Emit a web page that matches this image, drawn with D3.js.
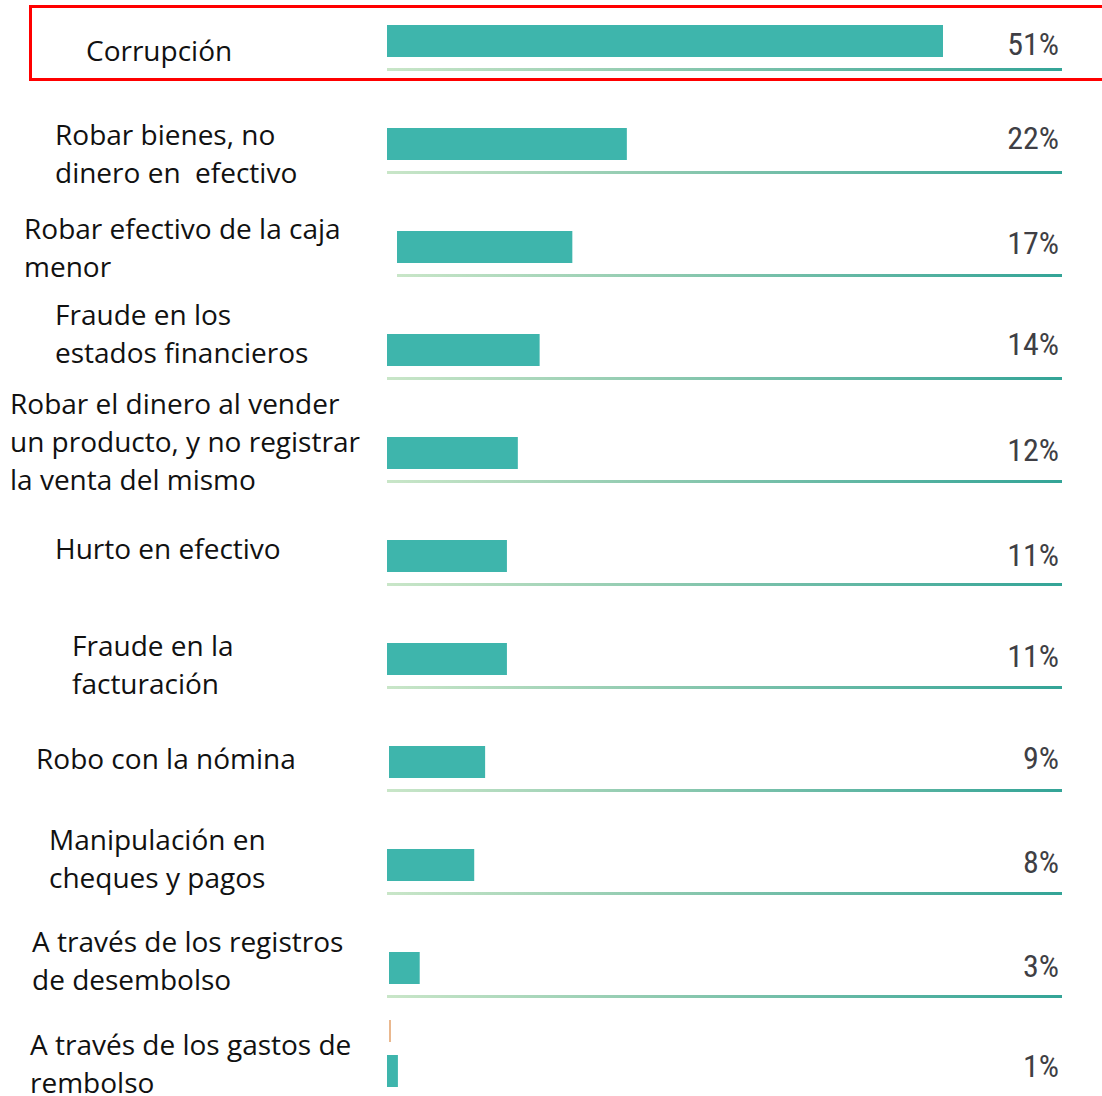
<!DOCTYPE html>
<html>
<head>
<meta charset="utf-8">
<script src="https://cdn.jsdelivr.net/npm/d3@7"></script>
<style>
  html, body { margin: 0; padding: 0; background: #ffffff; }
  svg { display: block; }
</style>
</head>
<body>
<svg id="chart" width="1102" height="1096"></svg>
<script>
// ---- Data ----
const categories = [
  ["Corrupción"],
  ["Robar bienes, no", "dinero en  efectivo"],
  ["Robar efectivo de la caja", "menor"],
  ["Fraude en los", "estados financieros"],
  ["Robar el dinero al vender", "un producto, y no registrar", "la venta del mismo"],
  ["Hurto en efectivo"],
  ["Fraude en la", "facturación"],
  ["Robo con la nómina"],
  ["Manipulación en", "cheques y pagos"],
  ["A través de los registros", "de desembolso"],
  ["A través de los gastos de", "rembolso"]
];
const values = [51, 22, 17, 14, 12, 11, 11, 9, 8, 3, 1];
const valueLabels = ["51%", "22%", "17%", "14%", "12%", "11%", "11%", "9%", "8%", "3%", "1%"];

// ---- Layout (not data) ----
const labelX = [86, 55, 24, 55, 10, 55, 72, 36, 49, 32, 30];
const labelDy = [36, 17, 8, -9, -23, 19, 13, 23, 1, 0, 0];
const pctDy = [30, 21, 23, 21, 24, 26, 24, 23, 24, 25, 22];
const barShift = [0, 0, 10, 0, 0, 0, 0, 2, 0, 2, 0];
const lineShift = [0, 0, 10, 0, 0, 0, 0, 0, 0, 0, 0];

const svg = d3.select("#chart");
const x0 = 387;
const barH = 32;
const lineLen = 675;

const x = d3.scaleLinear().domain([0, 51]).range([0, 556]);
const y = d3.scaleBand()
  .domain(d3.range(values.length))
  .range([25, 25 + 103 * values.length])
  .paddingInner(0).paddingOuter(0);

const defs = svg.append("defs");
const grad = defs.append("linearGradient").attr("id", "lineGrad")
  .attr("x1", "0%").attr("x2", "100%").attr("y1", "0%").attr("y2", "0%");
grad.append("stop").attr("offset", "0%").attr("stop-color", "#c9e6c8");
grad.append("stop").attr("offset", "40%").attr("stop-color", "#8fcab0");
grad.append("stop").attr("offset", "100%").attr("stop-color", "#33a497");

const rows = svg.selectAll("g.row").data(values).join("g").attr("class", "row");

// underlines
rows.append("rect")
  .attr("x", (d, i) => x0 + lineShift[i])
  .attr("y", (d, i) => y(i) + 43)
  .attr("width", (d, i) => lineLen - lineShift[i])
  .attr("height", 3)
  .attr("fill", "url(#lineGrad)");

// bars
rows.append("rect")
  .attr("x", (d, i) => x0 + barShift[i])
  .attr("y", (d, i) => y(i))
  .attr("width", (d, i) => x(d) - barShift[i])
  .attr("height", barH)
  .attr("fill", "#3eb5ac");

// value labels
rows.append("text")
  .attr("x", 1059)
  .attr("y", (d, i) => y(i) + pctDy[i])
  .attr("text-anchor", "end")
  .attr("font-family", "'Liberation Sans Narrow', 'Arial Narrow', 'Roboto Condensed', sans-serif")
  .attr("font-stretch", "condensed")
  .attr("font-size", 32)
  .attr("fill", "#3f3f45")
  .text((d, i) => valueLabels[i]);

// category labels
rows.append("text")
  .attr("font-family", "'Open Sans', 'Noto Sans', sans-serif")
  .attr("font-size", 28)
  .attr("fill", "#111111")
  .style("white-space", "pre")
  .each(function (d, i) {
    const t = d3.select(this);
    categories[i].forEach((line, k) => {
      t.append("tspan")
        .attr("x", labelX[i])
        .attr("y", y(i) + labelDy[i] + k * 38)
        .text(line);
    });
  });

// small stray mark near last bar
svg.append("line")
  .attr("x1", 390).attr("x2", 390)
  .attr("y1", 1020).attr("y2", 1042)
  .attr("stroke", "#e3a06a").attr("stroke-width", 1.5);

// red highlight box around first row
svg.append("rect")
  .attr("x", 30.5).attr("y", 6.5)
  .attr("width", 1100).attr("height", 73)
  .attr("fill", "none")
  .attr("stroke", "#ff0000")
  .attr("stroke-width", 3);
</script>
</body>
</html>
